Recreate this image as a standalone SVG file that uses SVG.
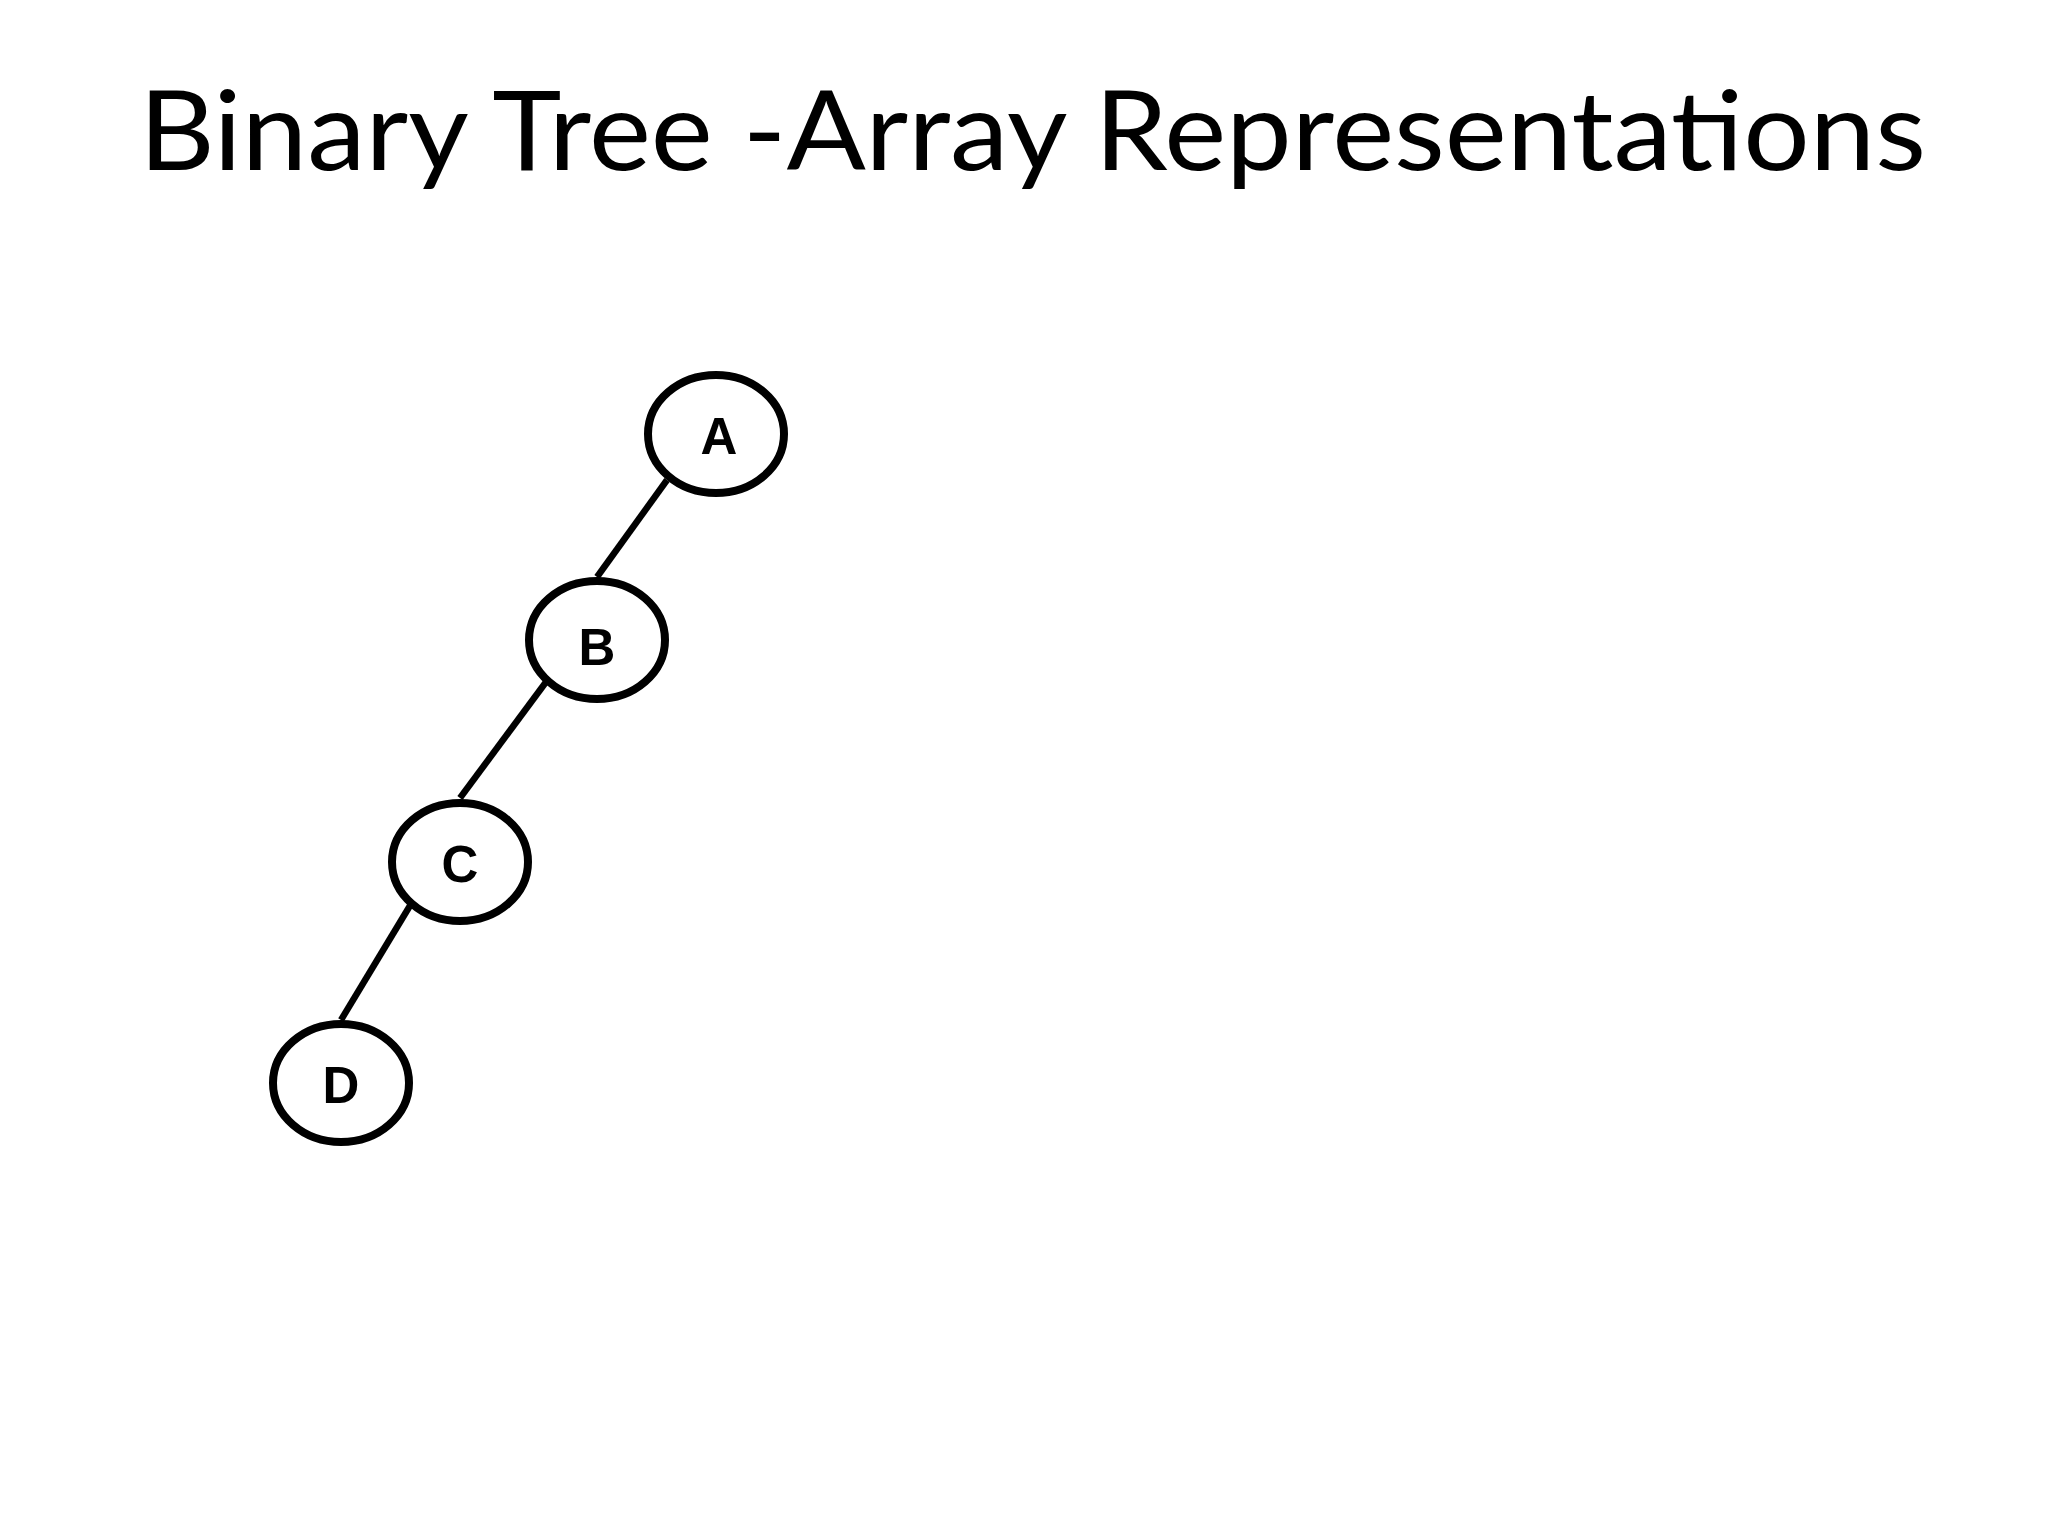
<svg xmlns="http://www.w3.org/2000/svg" width="2048" height="1536" viewBox="0 0 2048 1536">
<style>
.title{font-family:Lato,"Liberation Sans",sans-serif;font-size:110px;fill:#000}
.node ellipse{fill:#fff;stroke:#000;stroke-width:8}
.node text{font-family:"Liberation Sans",Arial,sans-serif;font-weight:bold;font-size:51px;fill:#000;text-anchor:middle}
.edges line{stroke:#000;stroke-width:6.5}
</style>
<rect width="2048" height="1536" fill="#fff"/>
<text class="title" x="139" y="170" textLength="1787" lengthAdjust="spacingAndGlyphs">Binary Tree -Array Representations</text>
<g class="edges">
<line x1="667" y1="480" x2="597" y2="577"/>
<line x1="546" y1="682" x2="460" y2="798"/>
<line x1="411" y1="904" x2="341" y2="1020"/>
</g>
<g id="node-A" class="node"><ellipse cx="716" cy="434" rx="68" ry="59"/><text x="719" y="454">A</text></g>
<g id="node-B" class="node"><ellipse cx="597" cy="640" rx="68" ry="59"/><text x="597" y="665">B</text></g>
<g id="node-C" class="node"><ellipse cx="460" cy="862" rx="68" ry="59"/><text x="460" y="882">C</text></g>
<g id="node-D" class="node"><ellipse cx="341" cy="1083" rx="68" ry="59"/><text x="341" y="1103">D</text></g>
</svg>
